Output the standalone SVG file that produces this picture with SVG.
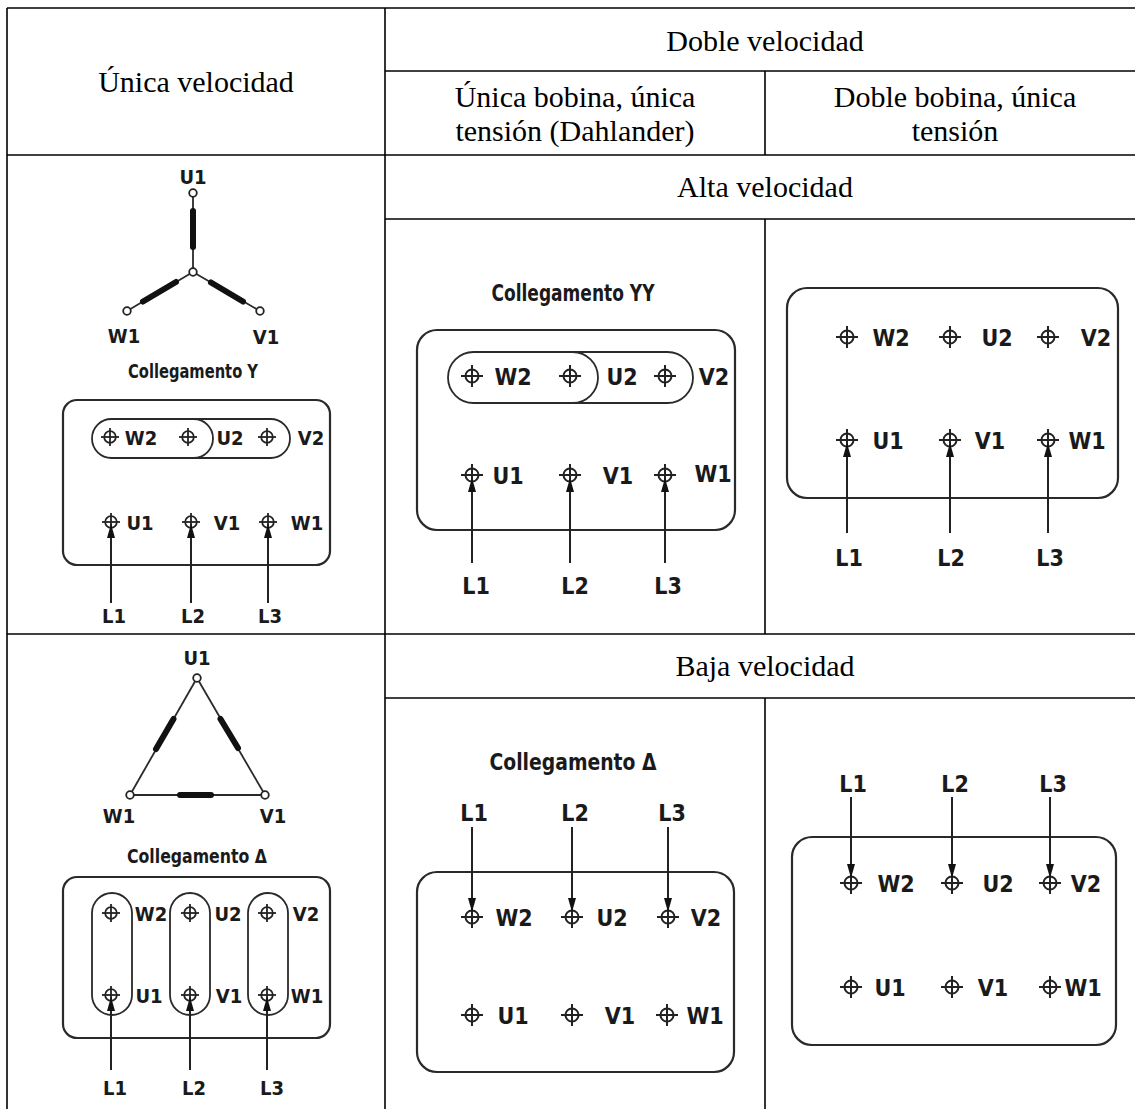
<svg xmlns="http://www.w3.org/2000/svg" xmlns:xlink="http://www.w3.org/1999/xlink" width="1135" height="1109" viewBox="0 0 1135 1109">
<style>
.grid{stroke:#000;stroke-width:1.6;fill:none}
.hd{font-family:"Liberation Serif","Times New Roman",serif;font-size:30px;fill:#000;text-anchor:middle}
.lb{font-family:"Liberation Sans Narrow","DejaVu Sans Condensed","Liberation Sans",sans-serif;font-stretch:condensed;font-weight:bold;fill:#1a1a1a;text-anchor:middle}
.s{font-size:20px}
.m{font-size:23px}
.box{fill:none;stroke:#2a2a2a;stroke-width:2.2}
.thin{fill:none;stroke:#2a2a2a;stroke-width:1.8}
.coil{stroke:#111;stroke-width:6;stroke-linecap:round}
.node{fill:#fff;stroke:#222;stroke-width:1.8}
.arr{stroke:#222;stroke-width:2;fill:none;marker-end:url(#ah)}
</style>
<defs>
<marker id="ah" markerUnits="userSpaceOnUse" viewBox="0 0 14 8" markerWidth="14" markerHeight="8" refX="14" refY="4" orient="auto">
<path d="M0,0 L14,4 L0,8 z" fill="#111"/>
</marker>
<g id="t" fill="none" stroke="#222" stroke-width="2">
<circle cx="0" cy="0" r="6.5"/>
<line x1="-11" y1="0" x2="11" y2="0"/>
<line x1="0" y1="-11" x2="0" y2="11"/>
</g>
<g id="ts" fill="none" stroke="#222" stroke-width="1.8">
<circle cx="0" cy="0" r="5.8"/>
<line x1="-9" y1="0" x2="9" y2="0"/>
<line x1="0" y1="-9" x2="0" y2="9"/>
</g>
</defs>
<rect width="1135" height="1109" fill="#fff"/>

<g id="table">
<line class="grid" x1="7" y1="8" x2="1135" y2="8"/>
<line class="grid" x1="7" y1="8" x2="7" y2="1109"/>
<line class="grid" x1="385" y1="8" x2="385" y2="1109"/>
<line class="grid" x1="385" y1="71" x2="1135" y2="71"/>
<line class="grid" x1="765" y1="71" x2="765" y2="155"/>
<line class="grid" x1="7" y1="155" x2="1135" y2="155"/>
<line class="grid" x1="385" y1="219" x2="1135" y2="219"/>
<line class="grid" x1="765" y1="219" x2="765" y2="634"/>
<line class="grid" x1="7" y1="634" x2="1135" y2="634"/>
<line class="grid" x1="385" y1="698" x2="1135" y2="698"/>
<line class="grid" x1="765" y1="698" x2="765" y2="1109"/>
<text class="hd" x="765" y="51">Doble velocidad</text>
<text class="hd" x="196" y="92">Única velocidad</text>
<text class="hd" x="575" y="107">Única bobina, única</text>
<text class="hd" x="575" y="141">tensión (Dahlander)</text>
<text class="hd" x="955" y="107">Doble bobina, única</text>
<text class="hd" x="955" y="141">tensión</text>
<text class="hd" x="765" y="197">Alta velocidad</text>
<text class="hd" x="765" y="676">Baja velocidad</text>
</g>

<g id="star-single">
<line class="thin" x1="193" y1="196" x2="193" y2="269"/>
<line class="coil" x1="193" y1="211" x2="193" y2="247"/>
<line class="thin" x1="193" y1="272" x2="127" y2="311"/>
<line class="coil" x1="176" y1="282" x2="143" y2="301.5"/>
<line class="thin" x1="193" y1="272" x2="260" y2="311"/>
<line class="coil" x1="211" y1="282.5" x2="243" y2="301.5"/>
<circle class="node" cx="193" cy="193" r="3.8"/>
<circle class="node" cx="193" cy="272" r="3.8"/>
<circle class="node" cx="127" cy="311" r="3.8"/>
<circle class="node" cx="260" cy="311" r="3.8"/>
<text class="lb s" x="193" y="184">U1</text>
<text class="lb s" x="124" y="343">W1</text>
<text class="lb s" x="266" y="344">V1</text>
<text class="lb s" x="193" y="378" textLength="130" lengthAdjust="spacingAndGlyphs">Collegamento Y</text>
<rect class="box" x="63" y="400" width="267" height="165" rx="14"/>
<rect class="thin" x="92" y="419" width="198" height="39" rx="19.5"/>
<path class="thin" d="M193.5,419 A19.5,19.5 0 0 1 193.5,458"/>
<use xlink:href="#ts" x="110" y="437"/>
<use xlink:href="#ts" x="188" y="437"/>
<use xlink:href="#ts" x="267" y="437"/>
<text class="lb s" x="141" y="445">W2</text>
<text class="lb s" x="230" y="445">U2</text>
<text class="lb s" x="311" y="445">V2</text>
<use xlink:href="#ts" x="111" y="522"/>
<use xlink:href="#ts" x="191" y="522"/>
<use xlink:href="#ts" x="268" y="522"/>
<text class="lb s" x="140" y="530">U1</text>
<text class="lb s" x="227" y="530">V1</text>
<text class="lb s" x="307" y="530">W1</text>
<text class="lb s" x="114" y="623">L1</text>
<text class="lb s" x="193" y="623">L2</text>
<text class="lb s" x="270" y="623">L3</text>
</g>

<g id="yy-dahlander">
<text class="lb m" x="573" y="301" textLength="163" lengthAdjust="spacingAndGlyphs">Collegamento YY</text>
<rect class="box" x="417" y="330" width="318" height="200" rx="20"/>
<rect class="thin" x="448" y="352" width="245" height="51" rx="25.5"/>
<path class="thin" d="M572.5,352 A25.5,25.5 0 0 1 572.5,403"/>
<use xlink:href="#t" x="472" y="376"/>
<use xlink:href="#t" x="570" y="376"/>
<use xlink:href="#t" x="665" y="376"/>
<text class="lb m" x="513" y="385">W2</text>
<text class="lb m" x="622" y="385">U2</text>
<text class="lb m" x="714" y="385">V2</text>
<use xlink:href="#t" x="472" y="475"/>
<use xlink:href="#t" x="570" y="475"/>
<use xlink:href="#t" x="665" y="475"/>
<text class="lb m" x="508" y="484">U1</text>
<text class="lb m" x="618" y="484">V1</text>
<text class="lb m" x="713" y="482">W1</text>
<text class="lb m" x="476" y="594">L1</text>
<text class="lb m" x="575" y="594">L2</text>
<text class="lb m" x="668" y="594">L3</text>
</g>

<g id="double-high">
<rect class="box" x="787" y="288" width="331" height="210" rx="20"/>
<use xlink:href="#t" x="847" y="337"/>
<use xlink:href="#t" x="950" y="337"/>
<use xlink:href="#t" x="1048" y="337"/>
<text class="lb m" x="891" y="346">W2</text>
<text class="lb m" x="997" y="346">U2</text>
<text class="lb m" x="1096" y="346">V2</text>
<use xlink:href="#t" x="847" y="440"/>
<use xlink:href="#t" x="950" y="440"/>
<use xlink:href="#t" x="1048" y="440"/>
<text class="lb m" x="888" y="449">U1</text>
<text class="lb m" x="990" y="449">V1</text>
<text class="lb m" x="1087" y="449">W1</text>
<text class="lb m" x="849" y="566">L1</text>
<text class="lb m" x="951" y="566">L2</text>
<text class="lb m" x="1050" y="566">L3</text>
</g>

<g id="delta-single">
<line class="thin" x1="197" y1="678" x2="130" y2="795"/>
<line class="thin" x1="197" y1="678" x2="265" y2="795"/>
<line class="thin" x1="130" y1="795" x2="265" y2="795"/>
<line class="coil" x1="173.5" y1="719" x2="156" y2="749"/>
<line class="coil" x1="220.5" y1="719" x2="238" y2="748"/>
<line class="coil" x1="180" y1="795" x2="211" y2="795"/>
<circle class="node" cx="197" cy="678" r="3.8"/>
<circle class="node" cx="130" cy="795" r="3.8"/>
<circle class="node" cx="265" cy="795" r="3.8"/>
<text class="lb s" x="197" y="665">U1</text>
<text class="lb s" x="119" y="823">W1</text>
<text class="lb s" x="273" y="823">V1</text>
<text class="lb s" x="197" y="863" textLength="140" lengthAdjust="spacingAndGlyphs">Collegamento Δ</text>
<rect class="box" x="63" y="877" width="267" height="161" rx="14"/>
<rect class="thin" x="92" y="893" width="40" height="122" rx="20"/>
<rect class="thin" x="170" y="893" width="40" height="122" rx="20"/>
<rect class="thin" x="248" y="893" width="40" height="122" rx="20"/>
<use xlink:href="#ts" x="111" y="913"/>
<use xlink:href="#ts" x="190" y="913"/>
<use xlink:href="#ts" x="267" y="913"/>
<text class="lb s" x="151" y="921">W2</text>
<text class="lb s" x="228" y="921">U2</text>
<text class="lb s" x="306" y="921">V2</text>
<use xlink:href="#ts" x="111" y="995"/>
<use xlink:href="#ts" x="190" y="995"/>
<use xlink:href="#ts" x="267" y="995"/>
<text class="lb s" x="149" y="1003">U1</text>
<text class="lb s" x="229" y="1003">V1</text>
<text class="lb s" x="307" y="1003">W1</text>
<text class="lb s" x="115" y="1095">L1</text>
<text class="lb s" x="194" y="1095">L2</text>
<text class="lb s" x="272" y="1095">L3</text>
</g>

<g id="delta-dahlander">
<text class="lb m" x="573" y="770" textLength="167" lengthAdjust="spacingAndGlyphs">Collegamento Δ</text>
<text class="lb m" x="474" y="821">L1</text>
<text class="lb m" x="575" y="821">L2</text>
<text class="lb m" x="672" y="821">L3</text>
<rect class="box" x="417" y="872" width="317" height="200" rx="20"/>
<use xlink:href="#t" x="472" y="917"/>
<use xlink:href="#t" x="572" y="917"/>
<use xlink:href="#t" x="668" y="917"/>
<text class="lb m" x="514" y="926">W2</text>
<text class="lb m" x="612" y="926">U2</text>
<text class="lb m" x="706" y="926">V2</text>
<use xlink:href="#t" x="472" y="1015"/>
<use xlink:href="#t" x="572" y="1015"/>
<use xlink:href="#t" x="667" y="1015"/>
<text class="lb m" x="513" y="1024">U1</text>
<text class="lb m" x="620" y="1024">V1</text>
<text class="lb m" x="705" y="1024">W1</text>
</g>

<g id="double-low">
<text class="lb m" x="853" y="792">L1</text>
<text class="lb m" x="955" y="792">L2</text>
<text class="lb m" x="1053" y="792">L3</text>
<rect class="box" x="792" y="837" width="324" height="208" rx="20"/>
<use xlink:href="#t" x="851" y="883"/>
<use xlink:href="#t" x="952" y="883"/>
<use xlink:href="#t" x="1050" y="883"/>
<text class="lb m" x="896" y="892">W2</text>
<text class="lb m" x="998" y="892">U2</text>
<text class="lb m" x="1086" y="892">V2</text>
<use xlink:href="#t" x="851" y="987"/>
<use xlink:href="#t" x="952" y="987"/>
<use xlink:href="#t" x="1050" y="987"/>
<text class="lb m" x="890" y="996">U1</text>
<text class="lb m" x="993" y="996">V1</text>
<text class="lb m" x="1083" y="996">W1</text>
</g>

<g id="connectors">
<line class="arr" x1="111" y1="603" x2="111" y2="524"/>
<line class="arr" x1="191" y1="603" x2="191" y2="524"/>
<line class="arr" x1="268" y1="603" x2="268" y2="524"/>
<line class="arr" x1="472" y1="563" x2="472" y2="478"/>
<line class="arr" x1="570" y1="563" x2="570" y2="478"/>
<line class="arr" x1="665" y1="563" x2="665" y2="478"/>
<line class="arr" x1="847" y1="533" x2="847" y2="443"/>
<line class="arr" x1="950" y1="533" x2="950" y2="443"/>
<line class="arr" x1="1048" y1="533" x2="1048" y2="443"/>
<line class="arr" x1="111" y1="1070" x2="111" y2="997"/>
<line class="arr" x1="190" y1="1070" x2="190" y2="997"/>
<line class="arr" x1="267" y1="1070" x2="267" y2="997"/>
<line class="arr" x1="472" y1="827" x2="472" y2="912"/>
<line class="arr" x1="572" y1="827" x2="572" y2="912"/>
<line class="arr" x1="668" y1="827" x2="668" y2="912"/>
<line class="arr" x1="851" y1="797" x2="851" y2="878"/>
<line class="arr" x1="952" y1="797" x2="952" y2="878"/>
<line class="arr" x1="1050" y1="797" x2="1050" y2="878"/>
</g>
</svg>
